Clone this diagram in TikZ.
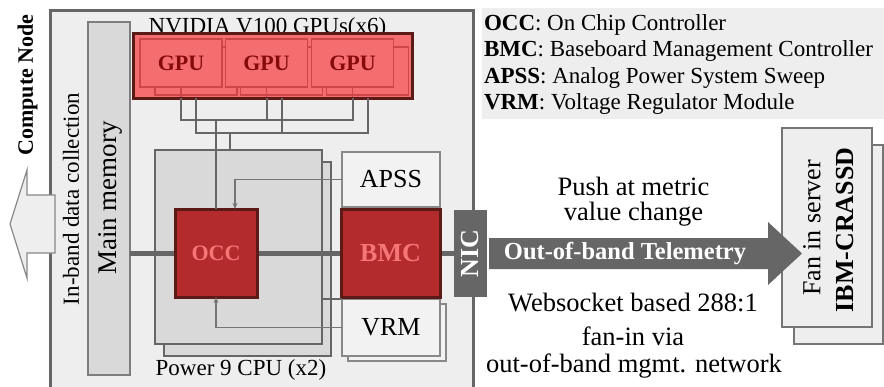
\documentclass[tikz,border=0pt]{standalone}
\usepackage{fontspec}
\setmainfont{Liberation Serif}
\usetikzlibrary{arrows.meta}
\definecolor{gline}{HTML}{666666}
\definecolor{glight}{HTML}{888888}
\definecolor{fillA}{HTML}{EEEEEE}
\definecolor{fillB}{HTML}{D9D9D9}
\definecolor{fillW}{HTML}{F2F2F2}
\definecolor{gpufill}{RGB}{244,110,112}
\definecolor{gpuedge}{RGB}{205,70,72}
\definecolor{gputext}{RGB}{135,10,10}
\definecolor{reddark}{RGB}{92,26,22}
\definecolor{occfill}{RGB}{180,43,46}
\definecolor{occtext}{RGB}{246,118,118}
\newcommand{\fsz}[1]{\fontsize{#1}{#1}\selectfont}
\begin{document}
\begin{tikzpicture}[x=1pt,y=-1pt,
  box/.style={rectangle, inner sep=0pt, outer sep=0pt},
  outerbox/.style={box, draw=gline, line width=3pt, fill=fillA},
  graybox/.style={box, draw=gline, line width=2.5pt, fill=fillB},
  membox/.style={box, draw=gline!85, line width=2pt, fill=fillB},
  whitebox/.style={box, draw=glight, line width=1.5pt, fill=fillW, font=\fsz{26}},
  gpubox/.style={box, draw=gpuedge, line width=1.2pt, fill=gpufill, font=\fsz{22}\bfseries, text=gputext},
  redbox/.style={box, draw=reddark, line width=3pt, fill=occfill, font=\bfseries, text=occtext},
  wire/.style={draw=gline, line width=2pt},
  bus/.style={draw=gline, line width=5pt},
  sig/.style={draw=gline!90, line width=1.2pt, -{Stealth[length=6pt,width=5pt]}},
  lbl/.style={inner sep=0pt, outer sep=0pt},
  legtext/.style={lbl, anchor=base west, font=\fsz{23}}
]
\clip (0,0) rectangle (884,386);
\fill[white] (0,0) rectangle (884,386);

% compute node
\node[outerbox, minimum width=423pt, minimum height=390pt] (node) at (261.5,205) {};
\node[membox, minimum width=42pt, minimum height=353pt] (mem) at (109,198.5) {};
\node[lbl, rotate=90, font=\fsz{27}] (memt) at (110,198) {Main memory};
\node[lbl, rotate=90, font=\fsz{23}] (inband) at (71,199) {In-band data collection};
\node[lbl, rotate=90, font=\fsz{22}\bfseries] (cn) at (27.5,85) {Compute Node};

% GPUs
\node[lbl, anchor=base, font=\fsz{23}] (nvt) at (267.5,33) {NVIDIA V100 GPUs(x6)};
\node[box, fill=gpufill, minimum width=279pt, minimum height=65pt] (gpus) at (272.5,65.5) {};
\node[gpubox, minimum width=82pt, minimum height=48pt] (g1b) at (196,71) {};
\node[gpubox, minimum width=82pt, minimum height=48pt] (g2b) at (281.5,71) {};
\node[gpubox, minimum width=82pt, minimum height=48pt] (g3b) at (367.5,71) {};
\node[gpubox, minimum width=82pt, minimum height=48pt] (g1) at (181,63) {GPU};
\node[gpubox, minimum width=82pt, minimum height=48pt] (g2) at (266.5,63) {GPU};
\node[gpubox, minimum width=82pt, minimum height=48pt] (g3) at (352.5,63) {GPU};
\foreach \g in {g1,g2,g3}{\draw[gpuedge, line width=1.2pt] (\g.south) -- (\g |- gpus.south);}
\node[box, draw=reddark, line width=3pt, minimum width=279pt, minimum height=65pt] (gpusb) at (272.5,65.5) {};

% CPU
\node[graybox, minimum width=167pt, minimum height=194pt] (cpub) at (247.5,259) {};
\node[graybox, minimum width=167pt, minimum height=194pt] (cpu) at (238.5,247) {};
\node[lbl, anchor=base, font=\fsz{23}] (cput) at (241,375) {Power 9 CPU (x2)};

% wires from GPUs
\coordinate (busA) at (0,120);
\coordinate (busB) at (0,133);
\coordinate (dropB) at (230,133);
\draw[wire] (g1 |- gpus.south) |- (g3 |- busA) -- (g3 |- gpus.south);
\draw[wire] (g2 |- gpus.south) -- (g2 |- busA);
\draw[wire] (g1b |- gpus.south) |- (g3b |- busB) -- (g3b |- gpus.south);
\draw[wire] (g2b |- gpus.south) -- (g2b |- busB);
\draw[wire] (dropB) -- (dropB |- cpu.north);

% peripheral boxes
\node[whitebox, minimum width=98pt, minimum height=55pt] (apss) at (391,179.5) {APSS};
\node[whitebox, minimum width=98pt, minimum height=57pt] (vrmb) at (397,332.5) {};
\node[whitebox, minimum width=98pt, minimum height=57pt] (vrm) at (391,327.5) {VRM};

% bus
\node[box, minimum width=33pt, minimum height=87pt] (nicpos) at (470.5,253.5) {};
\draw[bus] (mem.east |- nicpos) -- (nicpos.west);

\node[redbox, font=\fsz{22}\bfseries, minimum width=82pt, minimum height=88pt] (occ) at (216,253) {OCC};
\node[redbox, font=\fsz{26}\bfseries, minimum width=99pt, minimum height=88pt] (bmc) at (390.5,253) {BMC};
\draw[wire] (occ |- busA) -- (occ.north);

\draw[sig] (apss.west) -| ([xshift=19pt]occ.north);
\draw[sig] (vrm.west) -| (occ.south);
\draw[draw=gline, line width=1.5pt] (cpu.east |- vrm.north west) -- (vrm.north west);

% NIC
\node[box, fill=gline, minimum width=33pt, minimum height=87pt] (nic) at (470.5,253.5) {};
\node[lbl, rotate=90, text=white, font=\fsz{26}\bfseries] (nict) at (nic) {NIC};

% in-band arrow
\filldraw[fill=fillA, draw=glight, line width=1.2pt]
  (55,195) -- (27,195) -- (27,170) -- (10,224) -- (27,278) -- (27,253) -- (55,253) -- cycle;

% legend
\node[box, fill=fillA, minimum width=404pt, minimum height=111pt] (legend) at (684,63.5) {};
\node[legtext] (l1) at (484,30) {\textbf{OCC}: On Chip Controller};
\node[legtext] (l2) at (484,56.5) {\textbf{BMC}: Baseboard Management Controller};
\node[legtext] (l3) at (484,83) {\textbf{APSS}: Analog Power System Sweep};
\node[legtext] (l4) at (484,109.5) {\textbf{VRM}: Voltage Regulator Module};

% fan-in server
\node[box, draw=gline!90, line width=2pt, fill=fillA, minimum width=89pt, minimum height=199pt] (fanb) at (838.5,244.5) {};
\node[box, draw=gline!90, line width=2pt, fill=fillA, minimum width=90pt, minimum height=199pt] (fan) at (827,227.5) {};
\node[lbl, rotate=90, font=\fsz{26}] (fant) at (812,228) {Fan in server};
\node[lbl, rotate=90, font=\fsz{26}\bfseries] (ibm) at (845,230) {IBM-CRASSD};

% out-of-band arrow
\fill[gline] (489,238) -- (768,238) -- (768,222) -- (802,253.5) -- (768,285) -- (768,269) -- (489,269) -- cycle;
\node[lbl, text=white, font=\fsz{24.5}\bfseries] (oob) at (625,253.5) {Out-of-band Telemetry};

% annotations
\node[lbl, anchor=base, font=\fsz{26.5}] (push1) at (633.5,195) {Push at metric};
\node[lbl, anchor=base, font=\fsz{26.5}] (push2) at (633.5,220.5) {value change};
\node[lbl, anchor=base, font=\fsz{26.5}] (ws1) at (633,311.5) {Websocket based 288:1};
\node[lbl, anchor=base, font=\fsz{26.5}] (ws2) at (633,345) {fan-in via};
\node[lbl, anchor=base, font=\fsz{26.5}] (ws3) at (634,372) {out-of-band mgmt. network};
\end{tikzpicture}
\end{document}
